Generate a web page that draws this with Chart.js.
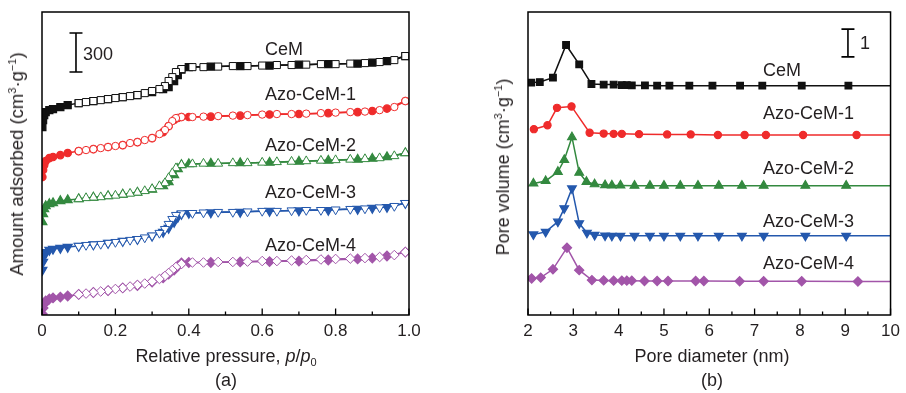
<!DOCTYPE html>
<html>
<head>
<meta charset="utf-8">
<script src="https://cdn.jsdelivr.net/npm/chart.js@4.4.1/dist/chart.umd.min.js"></script>
<style>
    body { margin: 0; width: 906px; height: 393px; position: relative; overflow: hidden; background: #fff;
           font-family: "Liberation Sans", Arial, sans-serif; color: #231f20; }
    canvas { position: absolute; top: 0; }
    .t { position: absolute; font-size: 18px; line-height: 18px; white-space: nowrap; }
    .c { transform: translateX(-50%); }
    .r { transform: translate(-50%, -50%) rotate(-90deg); }
    sup { font-size: 11px; vertical-align: 0; position: relative; top: -7px; }
    sub { font-size: 11px; vertical-align: 0; position: relative; top: 4px; }
</style>
</head>
<body>
<canvas id="iso" width="453" height="393" style="left:0"></canvas>
<canvas id="psd" width="453" height="393" style="left:453px"></canvas>

<div class="t" style="left:83px;top:45px">300</div>
<div class="t" style="left:265px;top:40px">CeM</div>
<div class="t" style="left:265px;top:85px">Azo-CeM-1</div>
<div class="t" style="left:265px;top:136px">Azo-CeM-2</div>
<div class="t" style="left:265px;top:183px">Azo-CeM-3</div>
<div class="t" style="left:265px;top:236px">Azo-CeM-4</div>
<div class="t r" style="left:18px;top:164px;font-size:18.5px">Amount adsorbed (cm<sup>3</sup>·g<sup>−1</sup>)</div>
<div class="t c" style="left:226px;top:347px">Relative pressure, <i>p</i>/<i>p</i><sub>0</sub></div>
<div class="t c" style="left:226px;top:371px">(a)</div>

<div class="t" style="left:860px;top:34px">1</div>
<div class="t" style="left:763px;top:61px">CeM</div>
<div class="t" style="left:763px;top:104px">Azo-CeM-1</div>
<div class="t" style="left:763px;top:159px">Azo-CeM-2</div>
<div class="t" style="left:763px;top:212px">Azo-CeM-3</div>
<div class="t" style="left:763px;top:254px">Azo-CeM-4</div>
<div class="t r" style="left:504px;top:167px">Pore volume (cm<sup>3</sup>·g<sup>−1</sup>)</div>
<div class="t c" style="left:712px;top:347px">Pore diameter (nm)</div>
<div class="t c" style="left:712px;top:371px">(b)</div>

<script>
// (a) N2 isotherms, curves stacked with vertical offsets (scale bar = 300 cm3/g)
const pAds = [0.001, 0.003, 0.006, 0.01, 0.02, 0.03, 0.05, 0.07, 0.10, 0.14,
              0.18, 0.22, 0.26, 0.30, 0.33, 0.345, 0.36, 0.37, 0.38, 0.40,
              0.46, 0.54, 0.62, 0.70, 0.78, 0.86, 0.90, 0.94, 0.99];
const pDes = [0.99, 0.96, 0.92, 0.88, 0.84, 0.80, 0.76, 0.72, 0.68, 0.64,
              0.60, 0.56, 0.52, 0.48, 0.44, 0.41, 0.38, 0.365, 0.355, 0.345,
              0.335, 0.32, 0.30, 0.28, 0.26, 0.24, 0.22, 0.20, 0.18, 0.16,
              0.14, 0.12, 0.10];

const cemAds = [1446, 1500, 1538, 1561, 1576, 1584, 1600, 1615, 1630, 1646,
                1661, 1676, 1692, 1715, 1738, 1753, 1800, 1846, 1888, 1907,
                1911, 1915, 1919, 1926, 1930, 1934, 1942, 1953, 1992];
const cemDes = [1992, 1961, 1946, 1938, 1934, 1930, 1930, 1926, 1923, 1923,
                1919, 1915, 1915, 1911, 1907, 1907, 1892, 1869, 1830, 1800,
                1761, 1738, 1723, 1707, 1692, 1684, 1676, 1669, 1661, 1653,
                1646, 1638, 1630];
const azo1Ads = [1061, 1115, 1153, 1184, 1207, 1215, 1230, 1246, 1261, 1276,
                 1292, 1307, 1330, 1361, 1407, 1453, 1500, 1515, 1523, 1523,
                 1526, 1534, 1542, 1546, 1553, 1561, 1569, 1588, 1646];
const azo1Des = [1646, 1600, 1576, 1565, 1561, 1557, 1553, 1549, 1546, 1546,
                 1542, 1538, 1534, 1530, 1526, 1523, 1523, 1515, 1492, 1453,
                 1423, 1392, 1361, 1346, 1330, 1323, 1307, 1300, 1292, 1284,
                 1276, 1269, 1261];
const azo2Ads = [715, 777, 815, 838, 854, 861, 877, 884, 892, 904,
                 915, 927, 942, 965, 992, 1023, 1077, 1123, 1154, 1161,
                 1165, 1169, 1173, 1180, 1188, 1196, 1203, 1215, 1246];
const azo2Des = [1246, 1223, 1207, 1200, 1196, 1192, 1188, 1184, 1180, 1177,
                 1173, 1169, 1169, 1165, 1165, 1161, 1154, 1130, 1092, 1054,
                 1015, 992, 969, 954, 942, 934, 927, 919, 915, 907,
                 904, 900, 892];
const azo3Ads = [346, 408, 454, 484, 500, 508, 515, 523, 531, 542,
                 554, 569, 584, 608, 638, 669, 715, 754, 777, 784,
                 788, 792, 800, 804, 807, 815, 823, 830, 861];
const azo3Des = [861, 838, 827, 819, 815, 811, 807, 807, 804, 800,
                 800, 796, 792, 792, 788, 784, 781, 769, 738, 700,
                 661, 631, 611, 596, 584, 577, 569, 561, 554, 546,
                 542, 538, 531];
const azo4Ads = [8, 54, 85, 108, 123, 131, 138, 146, 158, 173,
                 188, 208, 227, 254, 285, 315, 346, 377, 400, 404,
                 404, 408, 411, 415, 423, 431, 438, 454, 484];
const azo4Des = [484, 461, 446, 438, 434, 431, 427, 423, 419, 415,
                 415, 411, 408, 408, 404, 404, 392, 369, 346, 323,
                 300, 277, 258, 242, 231, 219, 208, 200, 188, 181,
                 173, 165, 158];

const isoTicks = [0, 0.2, 0.4, 0.6, 0.8, 1.0];
const isoTickLabels = ['0', '0.2', '0.4', '0.6', '0.8', '1.0'];

// (b) pore size distributions, stacked (scale bar = 1 cm3/g)
const psdCemX  = [2.07, 2.26, 2.55, 2.84, 3.13, 3.40, 3.67, 3.89, 4.07, 4.18, 4.29, 4.58, 4.85, 5.12, 5.56, 6.07, 6.68, 7.17, 8.04, 9.07, 10];
const psdCemY  = [8.39, 8.41, 8.57, 9.75, 9.05, 8.34, 8.32, 8.32, 8.30, 8.30, 8.29, 8.29, 8.28, 8.28, 8.28, 8.28, 8.28, 8.28, 8.28, 8.28, 8.28];
const psdAzo1X = [2.13, 2.43, 2.64, 2.96, 3.36, 3.67, 3.89, 4.07, 4.45, 5.07, 5.59, 6.19, 6.78, 7.25, 8.07, 9.25, 10];
const psdAzo1Y = [6.71, 6.85, 7.48, 7.53, 6.58, 6.55, 6.54, 6.54, 6.53, 6.52, 6.52, 6.50, 6.50, 6.50, 6.50, 6.50, 6.50];
const psdAzo2X = [2.12, 2.39, 2.66, 2.80, 2.97, 3.13, 3.29, 3.47, 3.70, 3.85, 4.04, 4.35, 4.69, 5.00, 5.36, 5.75, 6.21, 6.72, 7.20, 8.12, 9.02, 10];
const psdAzo2Y = [4.75, 4.84, 5.17, 5.60, 6.42, 5.14, 4.81, 4.72, 4.69, 4.68, 4.68, 4.67, 4.67, 4.67, 4.67, 4.67, 4.67, 4.67, 4.67, 4.67, 4.67, 4.67];
const psdAzo3X = [2.12, 2.39, 2.66, 2.80, 2.97, 3.13, 3.30, 3.47, 3.70, 3.85, 4.04, 4.35, 4.69, 5.00, 5.36, 5.75, 6.21, 6.72, 7.20, 8.12, 9.02, 10];
const psdAzo3Y = [2.91, 3.00, 3.37, 3.85, 4.57, 3.31, 2.97, 2.89, 2.87, 2.86, 2.86, 2.86, 2.86, 2.86, 2.86, 2.86, 2.86, 2.86, 2.86, 2.86, 2.86, 2.86];
const psdAzo4X = [2.08, 2.28, 2.55, 2.86, 3.13, 3.41, 3.67, 3.89, 4.07, 4.18, 4.29, 4.57, 4.85, 5.09, 5.70, 5.88, 6.67, 7.20, 8.04, 9.28, 10];
const psdAzo4Y = [1.32, 1.35, 1.65, 2.43, 1.62, 1.26, 1.25, 1.24, 1.24, 1.24, 1.24, 1.23, 1.23, 1.23, 1.23, 1.23, 1.22, 1.22, 1.22, 1.21, 1.21];

const psdTicks = [2, 3, 4, 5, 6, 7, 8, 9, 10];
const psdTickLabels = ['2', '3', '4', '5', '6', '7', '8', '9', '10'];

const colors = { cem: '#111111', azo1: '#ef2b2b', azo2: '#33893f', azo3: '#2458ad', azo4: '#a255a9' };
const font = { family: '"Liberation Sans", Arial, sans-serif', size: 17 };

// box, inward ticks and the scale bar
const framePlugin = {
    id: 'frame',
    afterDatasetsDraw(chart, args, opts) {
        const { ctx, chartArea: a } = chart;
        const x = chart.scales.x, y = chart.scales.y;
        ctx.save();
        ctx.strokeStyle = '#000';
        ctx.lineWidth = 1.5;
        ctx.strokeRect(a.left, a.top, a.right - a.left, a.bottom - a.top);

        ctx.lineWidth = 1.3;
        ctx.beginPath();
        const vals = x.ticks.map(t => t.value);
        vals.forEach((v, i) => {
            const px = x.getPixelForValue(v);
            ctx.moveTo(px, a.bottom); ctx.lineTo(px, a.bottom - 6.5);
            if (i < vals.length - 1) {
                const m = x.getPixelForValue((v + vals[i + 1]) / 2);
                ctx.moveTo(m, a.bottom); ctx.lineTo(m, a.bottom - 3.5);
            }
        });
        ctx.stroke();

        const b = opts.bar;
        const bx = x.getPixelForValue(b.x);
        const y0 = y.getPixelForValue(b.from), y1 = y.getPixelForValue(b.from + b.size);
        ctx.lineWidth = 1.6;
        ctx.beginPath();
        ctx.moveTo(bx, y0); ctx.lineTo(bx, y1);
        ctx.moveTo(bx - 6.5, y0); ctx.lineTo(bx + 6.5, y0);
        ctx.moveTo(bx - 6.5, y1); ctx.lineTo(bx + 6.5, y1);
        ctx.stroke();
        ctx.restore();
    }
};

function series(xs, ys, color, style, r, open, rot) {
    return {
        data: xs.map((x, i) => ({ x, y: ys[i] })),
        showLine: true,
        tension: 0,
        borderColor: color,
        borderWidth: 1.5,
        backgroundColor: open ? '#fff' : color,
        pointBackgroundColor: open ? '#fff' : color,
        pointBorderColor: color,
        pointBorderWidth: open ? 1 : 1.2,
        pointStyle: style,
        pointRotation: rot || 0,
        pointRadius: ctx => (ctx.raw && ctx.raw.x >= 10 ? 0 : r),
        order: open ? 0 : 1,
    };
}

function options(xMin, xMax, yMax, ticks, labels, pad, bar) {
    return {
        responsive: false,
        animation: false,
        events: [],
        layout: { padding: pad },
        plugins: { legend: { display: false }, tooltip: { enabled: false }, frame: { bar } },
        scales: {
            x: {
                type: 'linear', min: xMin, max: xMax,
                afterBuildTicks: s => { s.ticks = ticks.map(v => ({ value: v })); },
                afterFit: s => { s.height = 78; },
                grid: { display: false, drawTicks: false },
                border: { display: false },
                ticks: {
                    color: '#231f20', font, padding: 6, maxRotation: 0, autoSkip: false,
                    callback: (v, i) => labels[i],
                },
            },
            y: { type: 'linear', min: 0, max: yMax, display: false },
        },
    };
}

new Chart(document.getElementById('iso'), {
    type: 'scatter',
    data: {
        datasets: [
            series(pAds, cemAds, colors.cem, 'rect', 5, false),
            series(pDes, cemDes, colors.cem, 'rect', 5, true),
            series(pAds, azo1Ads, colors.azo1, 'circle', 3.7, false),
            series(pDes, azo1Des, colors.azo1, 'circle', 3.7, true),
            series(pAds, azo2Ads, colors.azo2, 'triangle', 5.2, false),
            series(pDes, azo2Des, colors.azo2, 'triangle', 5.2, true),
            series(pAds, azo3Ads, colors.azo3, 'triangle', 5.2, false, 180),
            series(pDes, azo3Des, colors.azo3, 'triangle', 5.2, true, 180),
            series(pAds, azo4Ads, colors.azo4, 'rectRot', 4.8, false),
            series(pDes, azo4Des, colors.azo4, 'rectRot', 4.8, true),
        ],
    },
    options: options(0, 1, 2331, isoTicks, isoTickLabels,
        { left: 42, top: 12, right: 44, bottom: 0 },
        { x: 0.0926, from: 1869, size: 300 }),
    plugins: [framePlugin],
});

new Chart(document.getElementById('psd'), {
    type: 'scatter',
    data: {
        datasets: [
            series(psdCemX, psdCemY, colors.cem, 'rect', 4.7, false),
            series(psdAzo1X, psdAzo1Y, colors.azo1, 'circle', 3.6, false),
            series(psdAzo2X, psdAzo2Y, colors.azo2, 'triangle', 5, false),
            series(psdAzo3X, psdAzo3Y, colors.azo3, 'triangle', 5, false, 180),
            series(psdAzo4X, psdAzo4Y, colors.azo4, 'rectRot', 4.6, false),
        ],
    },
    options: options(2, 10, 10.94, psdTicks, psdTickLabels,
        { left: 75, top: 12, right: 10, bottom: 0 },
        { x: 9.06, from: 9.32, size: 1 }),
    plugins: [framePlugin],
});
</script>
</body>
</html>
